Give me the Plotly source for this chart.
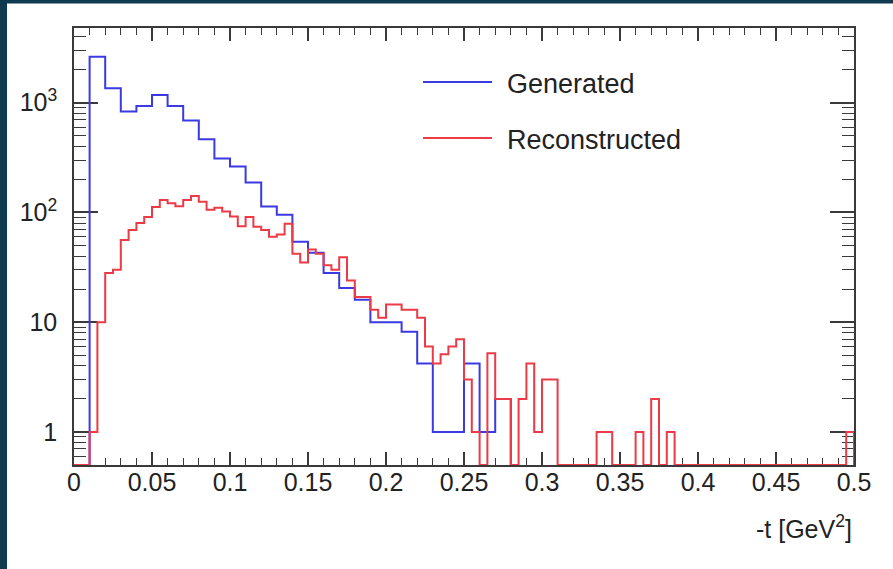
import plotly.graph_objects as go
import numpy as np

# ---------------- data ----------------
# Generated: 50 bins of width 0.01 over [0, 0.5]
gen_bin_width = 0.01
generated = [0, 2620, 1350, 830, 930, 1175, 930, 686, 465, 310,
             262, 187, 113, 95, 54, 43, 28, 20.5, 16, 10,
             10, 8.2, 4.2, 1, 1, 4.2, 1, 2, 0, 0,
             0, 0, 0, 0, 0, 0, 0, 0, 0, 0,
             0, 0, 0, 0, 0, 0, 0, 0, 0, 0]

# Reconstructed: 100 bins of width 0.005 over [0, 0.5]
rec_bin_width = 0.005
reconstructed = [0, 0, 1, 10, 28, 30, 56, 69, 80, 91,
                 112, 130, 121, 114, 130, 141, 125, 106, 110, 102,
                 92, 75, 91, 74, 69, 60, 63, 79, 42, 35,
                 46, 42, 33, 30, 39, 24, 17, 17, 13, 11,
                 14.5, 14.5, 13, 13, 11, 6, 4.2, 5.1, 6, 7,
                 3, 1, 0, 5.2, 2, 2, 0, 2, 4.2, 1,
                 3, 3, 0, 0, 0, 0, 0, 1, 1, 0,
                 0, 0, 1, 0, 2, 0, 1, 0, 0, 0,
                 0, 0, 0, 0, 0, 0, 0, 0, 0, 0,
                 0, 0, 0, 0, 0, 0, 0, 0, 0, 1]

series_names = ["Generated", "Reconstructed"]
x_tick_vals = [0, 0.05, 0.1, 0.15, 0.2, 0.25, 0.3, 0.35, 0.4, 0.45, 0.5]
x_tick_text = ["0", "0.05", "0.1", "0.15", "0.2", "0.25", "0.3", "0.35", "0.4", "0.45", "0.5"]
y_tick_vals = [1, 10, 100, 1000]
y_tick_text = ["1", "10", "10<sup>2</sup>", "10<sup>3</sup>"]
x_title = "-t [GeV<sup>2</sup>]"

# ---------------- layout constants ----------------
W, H = 893, 569
L, R, T, B = 74, 39, 28, 104
YMIN, YMAX = 0.5, 10 ** 3.68
FONT = "Liberation Sans, Arial, Helvetica, sans-serif"
BLUE = "#3a3ae4"
RED = "#ec3a46"
FRAME = "#3a3a3a"
TXT = "#222222"


def step_xy(values, width, floor):
    v = np.maximum(np.asarray(values, dtype=float), floor)
    edges = np.arange(len(v) + 1) * width
    xs = [edges[0]] + list(edges[:-1]) + [edges[-1], edges[-1]]
    ys = [floor] + list(v) + [v[-1], floor]
    return xs, ys


fig = go.Figure()
# generated: empty bins fall below the frame (clipped); reconstructed: empty bins sit on the frame
for vals, w, col, floor in [(generated, gen_bin_width, BLUE, YMIN / 20),
                            (reconstructed, rec_bin_width, RED, YMIN)]:
    xs, ys = step_xy(vals, w, floor)
    fig.add_trace(go.Scatter(x=xs, y=ys, mode="lines", line=dict(color=col, width=2, shape="hv"),
                             showlegend=False, hoverinfo="skip"))

y_minor = []
for d in [0.1, 1, 10, 100, 1000]:
    for m in range(2, 10):
        v = m * d
        if YMIN < v < YMAX:
            y_minor.append(v)

fig.update_layout(
    width=W, height=H,
    margin=dict(l=L, r=R, t=T, b=B),
    paper_bgcolor="white", plot_bgcolor="white",
    font=dict(family=FONT, color=TXT),
    xaxis=dict(range=[0, 0.5], showgrid=False, zeroline=False,
               showline=True, linecolor=FRAME, linewidth=1.5, mirror="ticks",
               ticks="inside", ticklen=13, tickwidth=1.5, tickcolor=FRAME,
               tickvals=x_tick_vals, ticktext=x_tick_text,
               tickfont=dict(size=25, family=FONT, color=TXT),
               ticklabelstandoff=-6,
               minor=dict(ticks="inside", ticklen=7, tickwidth=1.2, tickcolor=FRAME, dtick=0.01, showgrid=False),
               layer="below traces"),
    yaxis=dict(type="log", range=[np.log10(YMIN), np.log10(YMAX)], showgrid=False, zeroline=False,
               showline=True, linecolor=FRAME, linewidth=1.5, mirror="ticks",
               ticks="inside", ticklen=24, tickwidth=1.5, tickcolor=FRAME,
               tickvals=y_tick_vals, ticktext=y_tick_text,
               tickfont=dict(size=25, family=FONT, color=TXT),
               ticklabelstandoff=10,
               minor=dict(ticks="inside", ticklen=12, tickwidth=1.2, tickcolor=FRAME, tickvals=y_minor, showgrid=False),
               layer="below traces"),
)

pw, ph = W - L - R, H - T - B
def px(xp): return (xp - L) / pw
def py(yp): return 1 - (yp - T) / ph

# x-axis title (ROOT style, right aligned)
fig.add_annotation(x=px(854), xref="paper", y=py(527), yref="paper",
                   text=x_title, showarrow=False, xanchor="right", yanchor="middle",
                   font=dict(size=25, family=FONT, color=TXT))

# legend drawn manually (ROOT TLegend look)
for name, col, ly in [(series_names[0], BLUE, 82), (series_names[1], RED, 138)]:
    fig.add_shape(type="line", xref="paper", yref="paper", x0=px(423), x1=px(492), y0=py(ly), y1=py(ly),
                  line=dict(color=col, width=2))
    fig.add_annotation(x=px(505), y=py(ly + 2), xref="paper", yref="paper", text=name, showarrow=False,
                       xanchor="left", yanchor="middle", font=dict(size=27, family=FONT, color=TXT))

# dark slide border (left and top strips)
fig.add_shape(type="rect", xref="paper", yref="paper", x0=px(0), x1=px(7), y0=py(H), y1=py(0),
              fillcolor="#0e3a50", line=dict(width=0), layer="below")
fig.add_shape(type="rect", xref="paper", yref="paper", x0=px(0), x1=px(W), y0=py(3.5), y1=py(0),
              fillcolor="#0e3a50", line=dict(width=0), layer="below")

fig.write_html("out.html")
